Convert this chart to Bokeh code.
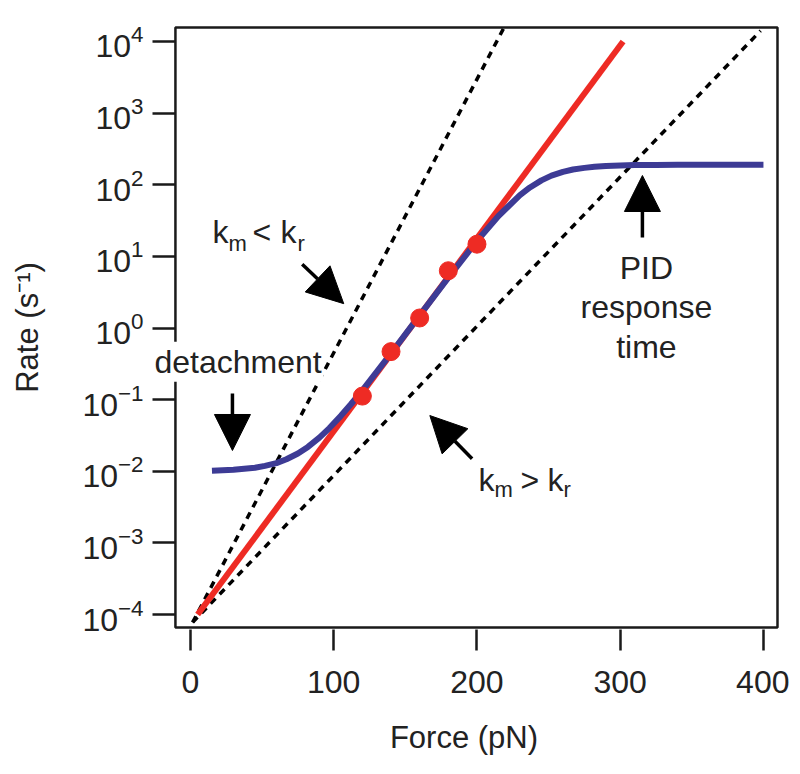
from bokeh.plotting import figure
from bokeh.models import (Range1d, FixedTicker, Arrow, NormalHead, Label, BoxAnnotation, LogAxis,
                          CustomJSTickFormatter)
from bokeh.embed import file_html
from bokeh.resources import INLINE

# ---- data ----
force_ticks = [0, 100, 200, 300, 400]
rate_ticks = [1e-4, 1e-3, 1e-2, 1e-1, 1e0, 1e1, 1e2, 1e3, 1e4]

# red model line (end points)
red_force = [5, 302]
red_rate = [1.0e-4, 1.0e4]

# measured points (red dots)
dot_force = [120, 140, 160, 180, 200]
dot_rate = [0.112, 0.468, 1.38, 6.3, 14.8]

# blue curve
blue_force = [15, 30, 45, 52, 60, 67, 75, 82, 90, 97, 105, 112, 120, 140, 160, 180, 200, 215, 230,
              237, 245, 252, 260, 267, 275, 282, 290, 300, 310, 325, 340, 370, 400]
blue_rate = [0.0102, 0.0105, 0.0112, 0.0119, 0.0130, 0.0147, 0.0177, 0.0219, 0.0295, 0.0401, 0.0594,
             0.0862, 0.135, 0.443, 1.50, 5.04, 16.4, 36.6, 71.6, 91.7, 115, 134, 151, 163, 172, 178,
             183, 186, 188, 189, 189.5, 190, 190]

# dashed bounding lines (end points)
steep_force = [1.5, 218.5]
steep_rate = [10 ** -4.11, 10 ** 4.18]
shallow_force = [1.5, 398]
shallow_rate = [10 ** -4.11, 10 ** 4.15]

# plotted box limits
box_x = [-10.5, 409.8]
box_y = [10 ** -4.181, 10 ** 4.195]

FONT = "Liberation Sans"
INK = "#1a1a1a"
TXT = "#222222"
RED = "#ee2b24"
BLUE = "#3d3b95"

p = figure(frame_width=631, frame_height=604, y_axis_type="log",
           x_range=Range1d(-29.3, 411.2), y_range=Range1d(10 ** -4.209, 10 ** 4.223),
           output_backend="svg", toolbar_location=None,
           min_border_left=148, min_border_top=25, min_border_right=10, min_border_bottom=135)

p.grid.visible = False
p.outline_line_color = None
p.background_fill_color = "white"

p.xaxis.ticker = FixedTicker(ticks=force_ticks, minor_ticks=[])
p.yaxis.ticker = FixedTicker(ticks=rate_ticks, minor_ticks=[])
for ax in (p.xaxis[0], p.yaxis[0]):
    ax.axis_line_color = None
    ax.major_tick_line_color = INK
    ax.major_tick_line_width = 2.5
    ax.major_tick_in = 0
    ax.minor_tick_out = 0
    ax.minor_tick_in = 0
    ax.major_label_text_font = FONT
    ax.major_label_text_font_size = "32px"
    ax.major_label_text_color = TXT
    ax.axis_label_text_font = FONT
    ax.axis_label_text_font_size = "31px"
    ax.axis_label_text_font_style = "normal"
    ax.axis_label_text_color = TXT

p.xaxis.major_tick_out = 21
p.yaxis.major_tick_out = 23
p.yaxis.fixed_location = box_x[0]
p.yaxis.formatter = CustomJSTickFormatter(code="return ''")
p.xaxis.axis_label = "Force (pN)"
p.xaxis.major_label_standoff = 20
p.xaxis.axis_label_standoff = 24

# outer axis carrying the y tick labels and the y title
label_axis = LogAxis(ticker=FixedTicker(ticks=rate_ticks, minor_ticks=[]), axis_line_color=None,
                     major_tick_out=0, major_tick_in=0, minor_tick_out=0, minor_tick_in=0,
                     major_label_text_font=FONT, major_label_text_font_size="32px",
                     major_label_text_color=TXT, major_label_standoff=5,
                     axis_label="Rate (s\u207b\u00b9)", axis_label_text_font=FONT,
                     axis_label_text_font_size="31px", axis_label_text_font_style="normal",
                     axis_label_text_color=TXT, axis_label_standoff=34)
p.add_layout(label_axis, "left")

p.line(steep_force, steep_rate, line_color="black", line_width=3.5, line_dash="7 6")
p.line(shallow_force, shallow_rate, line_color="black", line_width=3.5, line_dash="7 6")
p.line(red_force, red_rate, line_color=RED, line_width=6)
p.line(blue_force, blue_rate, line_color=BLUE, line_width=6, line_join="round")
p.scatter(dot_force, dot_rate, size=18, fill_color=RED, line_color=RED)

# frame box
p.add_layout(BoxAnnotation(left=box_x[0], right=box_x[1], bottom=box_y[0], top=box_y[1],
                           fill_color=None, fill_alpha=0, line_color=INK, line_alpha=1.0,
                           line_width=2.5))

# arrows
def arrow(x0, y0, x1, y1):
    p.add_layout(Arrow(x_start=x0, y_start=y0, x_end=x1, y_end=y1,
                       line_color="black", line_width=3.5,
                       end=NormalHead(size=36, fill_color="black", line_color="black", line_width=1)))

arrow(78.0, 10 ** 0.89, 107.0, 10 ** 0.34)
arrow(29.3, 10 ** -0.915, 29.3, 10 ** -1.71)
arrow(196.6, 10 ** -1.826, 167.1, 10 ** -1.222)
arrow(315.5, 10 ** 1.264, 315.5, 10 ** 2.129)

LIFT = 0.15  # baseline correction (decades)

def label(x, logy, text, size="32px", align="left", bg=None):
    kw = dict(x=x, y=10 ** (logy + LIFT), text=text, text_font=FONT, text_font_size=size,
              text_color=TXT, text_align=align, text_baseline="alphabetic")
    if bg:
        kw.update(background_fill_color=bg, padding=2)
    p.add_layout(Label(**kw))

label(-26.5, -0.621, "detachment", bg="white")

# k_m < k_r
label(15.4, 1.194, "k")
label(26.5, 1.026, "m", size="22px")
label(43.3, 1.194, "<")
label(62.8, 1.194, "k")
label(74.7, 1.026, "r", size="22px")

# k_m > k_r
label(201.0, -2.269, "k")
label(212.2, -2.408, "m", size="22px")
label(230.4, -2.269, ">")
label(249.2, -2.269, "k")
label(260.4, -2.408, "r", size="22px")

label(318.3, 0.691, "PID", align="center")
label(318.3, 0.147, "response", align="center")
label(318.3, -0.412, "time", align="center")

open("out.html", "w").write(file_html(p, INLINE))
